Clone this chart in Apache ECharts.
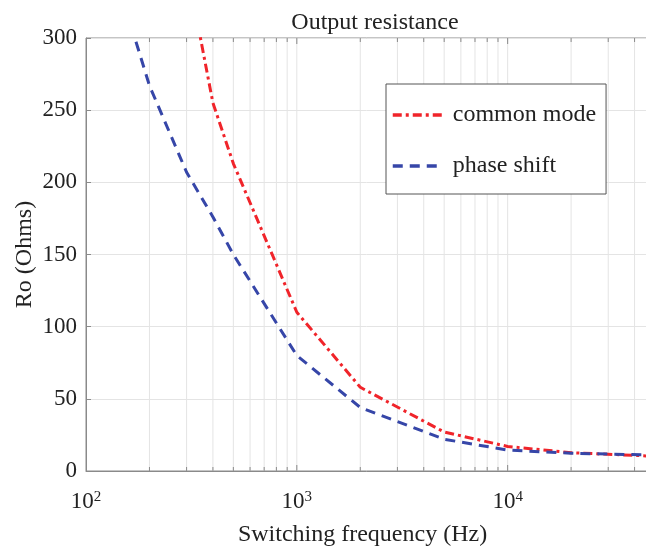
<!DOCTYPE html>
<html>
<head>
<meta charset="utf-8">
<script src="https://cdn.jsdelivr.net/npm/echarts@6/dist/echarts.min.js"></script>
<style>html,body{margin:0;padding:0;background:#fff;}#c{width:646px;height:546px;}</style>
</head>
<body>
<div id="c"></div>
<script>
// Data
var freqs = [100, 200, 300, 400, 500, 1000, 2000, 5000, 10000, 20000, 50000];
var commonMode = [760, 520, 350, 255, 213, 110, 58, 27, 17, 12.7, 10.2];
var phaseShift = [410, 267, 207, 176, 150, 80, 44, 22, 14.5, 12.3, 11];
var gridX = [200, 300, 400, 500, 600, 700, 800, 900, 1000,
             2000, 3000, 4000, 5000, 6000, 7000, 8000, 9000, 10000,
             20000, 30000, 40000];
var majorX = [1000, 10000];
var yTicks = [0, 50, 100, 150, 200, 250, 300];

var FONT = '"Liberation Serif", "Times New Roman", serif';
var chart = echarts.init(document.getElementById('c'));

var option = {
  animation: false,
  backgroundColor: '#fff',
  title: {
    text: 'Output resistance',
    left: 370, top: 6, textAlign: 'center',
    textStyle: {fontFamily: FONT, fontSize: 24, fontWeight: 'normal', color: '#222'}
  },
  grid: {left: 86, right: -9, top: 38, bottom: 75, outerBoundsMode: 'none', containLabel: false,
         show: true, borderColor: '#8a8a8a', borderWidth: 1, backgroundColor: 'transparent'},
  legend: {
    orient: 'vertical', left: 386, top: 84,
    backgroundColor: '#fff', borderColor: '#555', borderWidth: 1, borderRadius: 0,
    padding: [19, 10, 16, 5], itemGap: 27, itemWidth: 50, itemHeight: 14,
    itemStyle: {opacity: 0},
    lineStyle: {width: 3.5},
    textStyle: {fontFamily: FONT, fontSize: 24, color: '#222', padding: [0, 0, 0, 5]},
    data: ['common mode', 'phase shift']
  },
  xAxis: {
    type: 'log', logBase: 10, min: 100, max: 50000,
    name: 'Switching frequency (Hz)', nameLocation: 'middle', nameGap: 52,
    nameMoveOverlap: false,
    nameTextStyle: {fontFamily: FONT, fontSize: 24, color: '#222', padding: [0, 16, 0, 0]},
    axisLine: {show: true, lineStyle: {color: '#8a8a8a'}},
    axisTick: {show: false},
    splitLine: {show: false},
    axisLabel: {
      showMaxLabel: false, margin: 19,
      formatter: function (v) {
        var e = Math.round(Math.log10(v));
        return '{b|10}{s|' + e + '}';
      },
      rich: {
        b: {fontFamily: FONT, fontSize: 23, color: '#222'},
        s: {fontFamily: FONT, fontSize: 15, color: '#222', padding: [0, 0, 9, 0]}
      }
    }
  },
  yAxis: {
    type: 'value', min: 0, max: 300, interval: 50,
    name: 'Ro (Ohms)', nameLocation: 'middle', nameGap: 49,
    nameMoveOverlap: false,
    nameTextStyle: {fontFamily: FONT, fontSize: 24, color: '#222'},
    axisLine: {show: true, lineStyle: {color: '#8a8a8a'}},
    axisTick: {show: true, inside: true, length: 5, lineStyle: {color: '#8a8a8a'}},
    splitLine: {show: true, lineStyle: {color: '#e4e4e4'}},
    axisLabel: {fontFamily: FONT, fontSize: 23, color: '#222', margin: 9}
  },
  series: [
    {
      type: 'custom', silent: true, z: 1,
      data: gridX.map(function (v) { return [v, 0, majorX.indexOf(v) >= 0 ? 1 : 0]; }),
      encode: {x: 0, y: 1},
      renderItem: function (params, api) {
        var x = api.coord([api.value(0), 0])[0];
        var cs = params.coordSys;
        var top = cs.y, bot = cs.y + cs.height;
        var len = api.value(2) ? 6 : 4;
        return {
          type: 'group',
          children: [
            {type: 'line', shape: {x1: x, y1: top, x2: x, y2: bot}, style: {stroke: '#e4e4e4', lineWidth: 1}},
            {type: 'line', shape: {x1: x, y1: bot, x2: x, y2: bot - len}, style: {stroke: '#8a8a8a', lineWidth: 1}},
            {type: 'line', shape: {x1: x, y1: top, x2: x, y2: top + len}, style: {stroke: '#8a8a8a', lineWidth: 1}}
          ]
        };
      }
    },
    {
      name: 'common mode', type: 'line', symbol: 'none', z: 3,
      data: freqs.map(function (f, i) { return [f, commonMode[i]]; }),
      lineStyle: {color: '#f0242a', width: 3, type: [9, 4, 3, 4]},
      itemStyle: {color: '#f0242a'}
    },
    {
      name: 'phase shift', type: 'line', symbol: 'none', z: 3,
      data: freqs.map(function (f, i) { return [f, phaseShift[i]]; }),
      lineStyle: {color: '#3646a8', width: 3, type: [10, 7]},
      itemStyle: {color: '#3646a8'}
    }
  ]
};
chart.setOption(option);
</script>
</body>
</html>
